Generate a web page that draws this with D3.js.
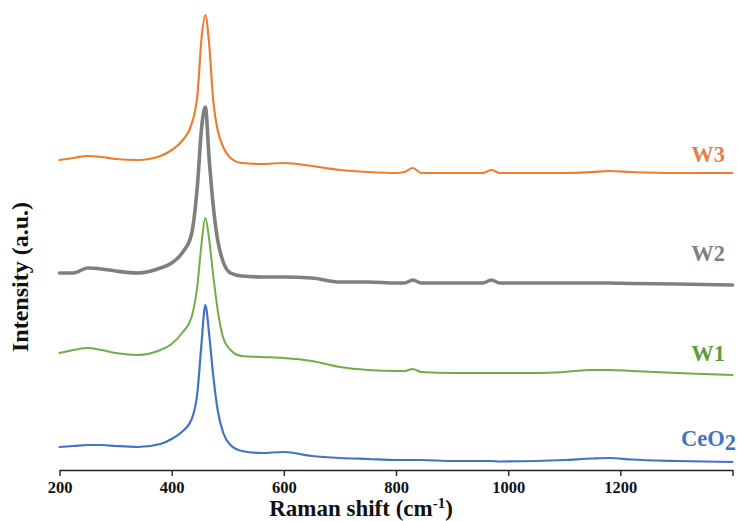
<!DOCTYPE html>
<html><head><meta charset="utf-8">
<script src="https://cdn.jsdelivr.net/npm/d3@7"></script>
<style>
html,body{margin:0;padding:0;background:#fff;}
svg{display:block;}
text{font-family:"Liberation Serif","Times New Roman",serif;font-weight:bold;}
</style></head>
<body>
<svg id="chart" width="737" height="521"></svg>
<script>
// Raman shift (cm-1) sample positions
const wavenumbers = [200,225,250,275,300,340,380,400,420,435,446,453,460,467,474,482,492,505,525,560,600,650,700,750,800,815,830,845,900,955,970,985,1050,1100,1150,1180,1220,1300,1400];
// Intensities (a.u., stacked offsets included)
const ceo2 = [23,24,25,25,24,23,26,31,39,50,78,125,165,135,95,60,37,25,19,17,18,14,12,11,10,10,10,10,9,9,9,8.5,9,10,11.5,12,10.5,9,8];
const w1   = [117,120,122,120,117,115,120,126,138,152,185,225,252,230,195,160,132,120,114,113,112,109,103,100,99,99,101,98,97,97,97,97,97,98,100,100,99,97,95];
const w2   = [197,197,202,201,199,197,202,207,218,235,285,340,363,310,265,230,208,197,194,193,193,192,188,188,187,187,190,187,187,187,190,187,187,187,187,187,186.5,186,185];
const w3   = [310,312,314,313,311,310,314,320,330,345,375,430,455,425,370,340,323,312,307,306,307,304,300,298,297,298,302,297,297,297,300,297,297,297,298,299,298,297,297];
const seriesNames = ["CeO2","W1","W2","W3"];
const xTicks = [200,400,600,800,1000,1200,1400];
const xTickLabels = ["200","400","600","800","1000","1200",""];

const svg = d3.select("#chart");
const x = d3.scaleLinear().domain([200,1400]).range([59.5,732.5]);
const y = d3.scaleLinear().domain([0,470]).range([470,0]);

const series = [
  {name:"CeO2", values:ceo2, color:"#4472C4", width:2.2, label:"#4472C4", ly:446},
  {name:"W1",   values:w1,   color:"#70AD47", width:2.0, label:"#5E9A3E", ly:361},
  {name:"W2",   values:w2,   color:"#7F7F7F", width:3.6, label:"#7F7F7F", ly:261},
  {name:"W3",   values:w3,   color:"#ED7D31", width:2.2, label:"#E2804F", ly:162}
];

const line = d3.line()
  .x((d,i)=>x(wavenumbers[i]))
  .y(d=>y(d))
  .curve(d3.curveMonotoneX);

series.forEach(s=>{
  svg.append("path").datum(s.values)
    .attr("d",line).attr("fill","none")
    .attr("stroke",s.color).attr("stroke-width",s.width)
    .attr("stroke-linejoin","round").attr("stroke-linecap","round");
});

// series labels
series.forEach(s=>{
  const t = svg.append("text")
    .attr("x", s.name==="CeO2" ? 736 : 725)
    .attr("y", s.ly)
    .attr("text-anchor","end")
    .attr("font-size",22.5)
    .attr("fill",s.label);
  if(s.name==="CeO2"){
    t.append("tspan").text("CeO");
    t.append("tspan").attr("dy",4).text("2");
  } else t.text(s.name);
});

// x axis
const xAxis = d3.axisBottom(x).tickValues(xTicks)
  .tickFormat((d,i)=>xTickLabels[i]).tickSize(6).tickSizeOuter(0);
const gx = svg.append("g").attr("transform","translate(0,470)").call(xAxis);
gx.select(".domain").attr("stroke","#222").attr("stroke-width",1.4);
gx.selectAll(".tick line").attr("stroke","#222").attr("stroke-width",1.4);
gx.selectAll(".tick text").attr("font-size",16.5).attr("fill","#111")
  .attr("font-family","'Liberation Serif','Times New Roman',serif").attr("font-weight","bold").attr("dy","0.85em");

// axis titles
const xt = svg.append("text").attr("x",361).attr("y",516).attr("text-anchor","middle")
  .attr("font-size",23).attr("fill","#111");
xt.append("tspan").text("Raman shift (cm");
xt.append("tspan").attr("dy",-8).attr("font-size",15).text("-1");
xt.append("tspan").attr("dy",8).text(")");

svg.append("text").attr("transform","translate(28,277) rotate(-90)")
  .attr("text-anchor","middle").attr("font-size",24).attr("fill","#111")
  .text("Intensity (a.u.)");
</script>
</body></html>
